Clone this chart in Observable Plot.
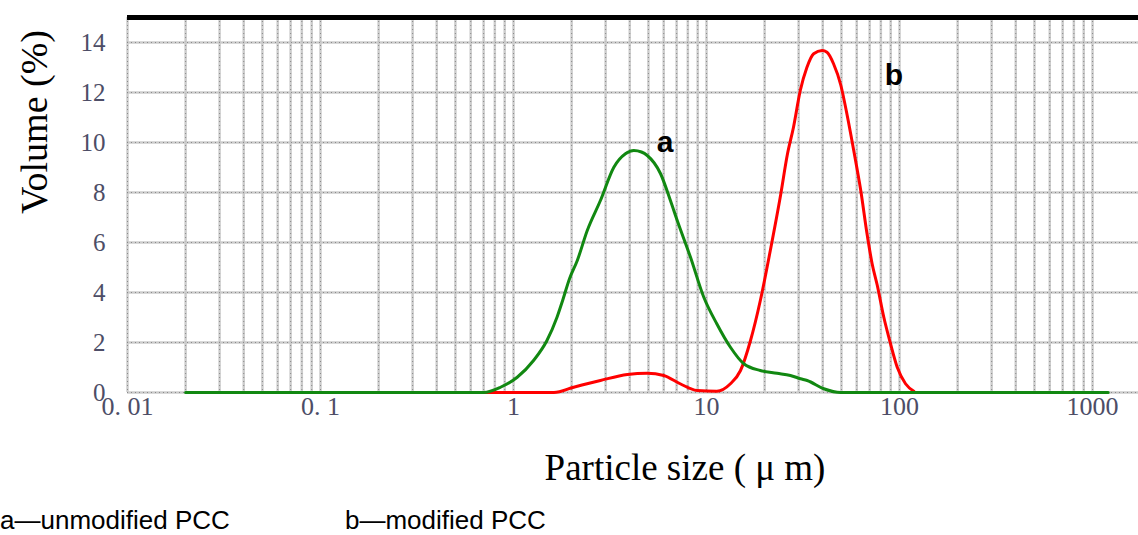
<!DOCTYPE html>
<html>
<head>
<meta charset="utf-8">
<script src="https://cdn.jsdelivr.net/npm/d3@7"></script>
<script src="https://cdn.jsdelivr.net/npm/@observablehq/plot@0.6"></script>
<style>
  html, body { margin: 0; padding: 0; background: #fff; }
  #wrap { position: relative; width: 1138px; height: 535px; overflow: hidden; }
  .cap { position: absolute; top: 506px; font-family: "Liberation Sans", Arial, sans-serif; font-size: 26px; line-height: 28px; color: #000; white-space: nowrap; }
</style>
</head>
<body>
<div id="wrap"></div>
<script>
// Curve a — unmodified PCC (particle size µm, volume %)
const sizeA = [0.02, 0.3, 0.70, 0.856, 1.045, 1.27, 1.49, 1.68, 1.80, 1.95, 2.14, 2.41, 2.82, 3.31, 3.8, 4.2, 4.6, 4.93, 5.78, 6.5, 7.05, 8.26, 9.68, 11.3, 13.3, 15.6, 19.0, 23.2, 27.2, 30.7, 33.2, 40.5, 49.5, 200, 1205];
const volA  = [0,    0,   0,    0.21,  0.61,  1.28, 2.08, 3.01, 3.7,  4.55, 5.28, 6.48, 7.68, 9.01, 9.55, 9.68, 9.62, 9.48, 8.75, 7.68, 6.88, 5.41, 3.81, 2.75, 1.81, 1.15, 0.88, 0.77, 0.68, 0.55, 0.48, 0.15, 0,    0,   0];

// Curve b — modified PCC
const sizeB = [0.7, 1.62, 2.05, 2.82, 3.89, 4.93, 6.0, 7.3, 8.93, 11.3, 13.3, 15.0, 16.9, 19.0, 21.4, 24.2, 26.2, 28.2, 30.6, 33.1, 35.9, 39.7, 42.1, 45.5, 49.6, 53.5, 57.9, 62.9, 68.0, 72.1, 76.6, 82.9, 89.8, 97.3, 107.4, 118.6];
const volB  = [0,   0,    0.21, 0.48, 0.72, 0.77, 0.68, 0.35, 0.08, 0.05, 0.35, 0.88, 2.08, 3.68, 5.68, 7.9,  9.5,  10.6, 12.08, 13.0, 13.55, 13.68, 13.61, 13.15, 12.3, 11.1, 9.68, 8.1, 6.3, 5.15, 4.3, 3.01, 1.95, 1.01, 0.35,  0.05];

// Axis ticks and labels
const xTicks = [0.01, 0.1, 1, 10, 100, 1000];
const xTickLabels = ["0. 01", "0. 1", "1", "10", "100", "1000"];
const yTicks = [0, 2, 4, 6, 8, 10, 12, 14];
const gridDecades = [0.01, 0.1, 1, 10, 100, 1000];
const gridMultiples = [1, 2, 3, 4, 5, 6, 7, 8, 9];

// Curve annotations
const noteX = [6.1, 93.6];
const noteY = [10.0, 12.7];
const noteText = ["a", "b"];

const xTitle = "Particle size ( \u03bc m)";
const yTitle = "Volume (%)";
const captionA = "a\u2014unmodified PCC";
const captionB = "b\u2014modified PCC";

const rowsA = sizeA.map((s, i) => ({size: s, vol: volA[i]}));
const rowsB = sizeB.map((s, i) => ({size: s, vol: volB[i]}));
const gridX = gridDecades.flatMap(d => gridMultiples.map(m => d * m)).filter(v => v <= 1730);
const notes = noteText.map((t, i) => ({x: noteX[i], y: noteY[i], t}));
const xLabelOf = d => {
  const k = xTicks.findIndex(t => Math.abs(Math.log10(t) - Math.log10(d)) < 1e-6);
  return k >= 0 ? xTickLabels[k] : "";
};

const tickColor = "#4d4d66";
const serif = "'Liberation Serif', 'Times New Roman', serif";

const chart = Plot.plot({
  width: 1138,
  height: 500,
  marginLeft: 127,
  marginRight: 0,
  marginTop: 17,
  marginBottom: 108,
  x: {type: "log", domain: [0.01, 1730]},
  y: {domain: [0, 15]},
  marks: [
    Plot.ruleX(gridX, {stroke: "#cccccc", strokeWidth: 2.5}),
    Plot.ruleX(gridX, {stroke: "#8a8a8a", strokeWidth: 1, strokeDasharray: "1,3"}),
    Plot.ruleY(yTicks, {stroke: "#cccccc", strokeWidth: 2.5}),
    Plot.ruleY(yTicks, {stroke: "#8a8a8a", strokeWidth: 1, strokeDasharray: "1,3"}),
    Plot.ruleY([15], {stroke: "#000", strokeWidth: 5}),
    Plot.axisX({ticks: xTicks, tickFormat: xLabelOf, tickSize: 0, tickPadding: 4, label: null,
      fontSize: 26, fontFamily: serif, color: tickColor}),
    Plot.axisY({ticks: yTicks, tickSize: 0, tickPadding: 22, label: null,
      fontSize: 25, fontFamily: serif, color: tickColor}),
    Plot.line(rowsB, {x: "size", y: "vol", stroke: "#ff0000", strokeWidth: 3, curve: "monotone-x"}),
    Plot.line(rowsA, {x: "size", y: "vol", stroke: "#118811", strokeWidth: 3, curve: "monotone-x"}),
    Plot.text(notes, {x: "x", y: "y", text: "t", fontSize: 30, fontWeight: "bold",
      fontFamily: "'Liberation Sans', Arial, sans-serif", fill: "#000"}),
    Plot.text([xTitle], {frameAnchor: "bottom", dx: 52, dy: 87, fontSize: 37, fontFamily: serif, fill: "#000"}),
    Plot.text([yTitle], {frameAnchor: "left", rotate: -90, dx: -93, dy: 9, fontSize: 38, fontFamily: serif, fill: "#000"})
  ]
});

const wrap = document.getElementById("wrap");
wrap.appendChild(chart);
const ca = document.createElement("div");
ca.className = "cap"; ca.style.left = "0px"; ca.textContent = captionA;
const cb = document.createElement("div");
cb.className = "cap"; cb.style.left = "345px"; cb.textContent = captionB;
wrap.appendChild(ca);
wrap.appendChild(cb);
</script>
</body>
</html>
